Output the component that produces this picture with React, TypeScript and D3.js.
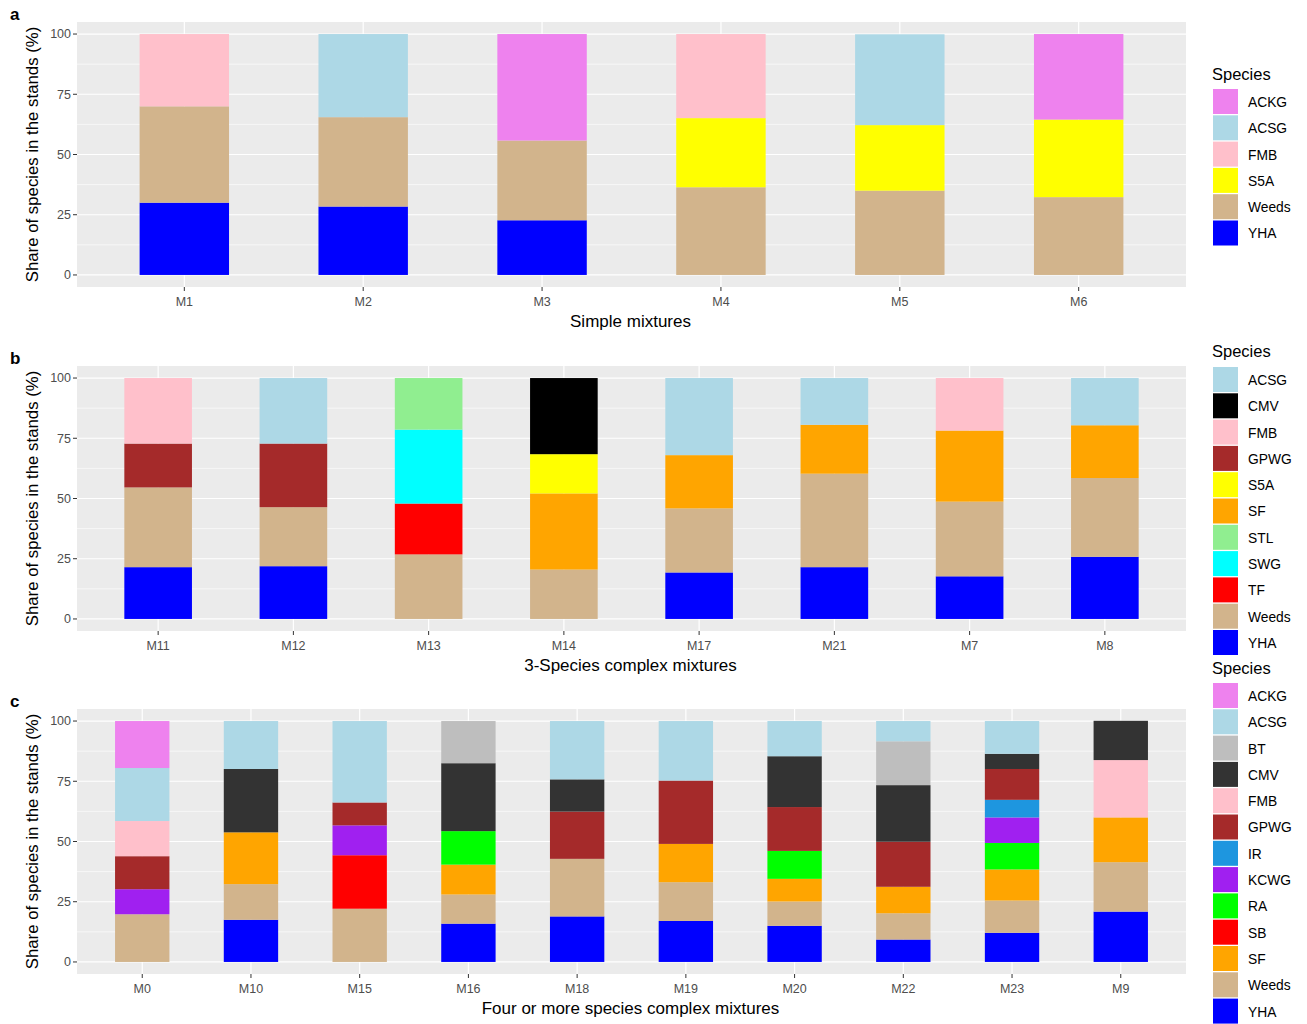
import React from "react";
import * as d3 from "d3";

const COLORS: Record<string, string> = {
  ACKG: "#EE82EE",
  ACSG: "#ADD8E6",
  BT: "#BEBEBE",
  FMB: "#FFC0CB",
  GPWG: "#A52A2A",
  IR: "#1E96DF",
  KCWG: "#A020F0",
  RA: "#00FF00",
  S5A: "#FFFF00",
  SB: "#FF0000",
  SF: "#FFA500",
  STL: "#90EE90",
  SWG: "#00FFFF",
  TF: "#FF0000",
  Weeds: "#D2B48C",
  YHA: "#0000FF",
};

// Panel a
const catsA = ["M1", "M2", "M3", "M4", "M5", "M6"];
const speciesA = ["ACKG", "ACSG", "FMB", "S5A", "Weeds", "YHA"];
const valuesA: Record<string, number[]> = {
  ACKG: [0, 0, 44.2, 0, 0, 35.5],
  ACSG: [0, 34.5, 0, 0, 37.7, 0],
  FMB: [30, 0, 0, 34.9, 0, 0],
  S5A: [0, 0, 0, 28.7, 27.2, 32.2],
  Weeds: [40, 37.1, 33.1, 36.4, 35.0, 32.3],
  YHA: [30, 28.4, 22.7, 0, 0, 0],
};

// Panel b
const catsB = ["M11", "M12", "M13", "M14", "M17", "M21", "M7", "M8"];
const speciesB = ["ACSG", "CMV", "FMB", "GPWG", "S5A", "SF", "STL", "SWG", "TF", "Weeds", "YHA"];
const valuesB: Record<string, number[]> = {
  ACSG: [0, 27.2, 0, 0, 32.0, 19.4, 0, 19.6],
  CMV: [0, 0, 0, 31.6, 0, 0, 0, 0],
  FMB: [27.2, 0, 0, 0, 0, 0, 21.8, 0],
  GPWG: [18.2, 26.4, 0, 0, 0, 0, 0, 0],
  S5A: [0, 0, 0, 16.3, 0, 0, 0, 0],
  SF: [0, 0, 0, 31.6, 22.1, 20.3, 29.5, 21.9],
  STL: [0, 0, 21.4, 0, 0, 0, 0, 0],
  SWG: [0, 0, 30.7, 0, 0, 0, 0, 0],
  TF: [0, 0, 21.1, 0, 0, 0, 0, 0],
  Weeds: [33.1, 24.5, 26.8, 20.5, 26.6, 38.8, 31.0, 32.7],
  YHA: [21.5, 21.9, 0, 0, 19.3, 21.5, 17.7, 25.8],
};

// Panel c
const catsC = ["M0", "M10", "M15", "M16", "M18", "M19", "M20", "M22", "M23", "M9"];
const speciesC = ["ACKG", "ACSG", "BT", "CMV", "FMB", "GPWG", "IR", "KCWG", "RA", "SB", "SF", "Weeds", "YHA"];
const valuesC: Record<string, number[]> = {
  ACKG: [19.5, 0, 0, 0, 0, 0, 0, 0, 0, 0],
  ACSG: [22.0, 19.9, 33.8, 0, 24.2, 24.7, 14.6, 8.4, 13.6, 0],
  BT: [0, 0, 0, 17.5, 0, 0, 0, 18.2, 0, 0],
  CMV: [0, 26.3, 0, 28.2, 13.4, 0, 21.1, 23.5, 6.3, 16.3],
  FMB: [14.6, 0, 0, 0, 0, 0, 0, 0, 0, 23.8],
  GPWG: [13.7, 0, 9.5, 0, 19.6, 26.3, 18.2, 18.7, 12.8, 0],
  IR: [0, 0, 0, 0, 0, 0, 0, 0, 7.3, 0],
  KCWG: [10.4, 0, 12.4, 0, 0, 0, 0, 0, 10.6, 0],
  RA: [0, 0, 0, 13.9, 0, 0, 11.6, 0, 11.0, 0],
  SB: [0, 0, 22.2, 0, 0, 0, 0, 0, 0, 0],
  SF: [0, 21.5, 0, 12.4, 0, 15.9, 9.4, 11.0, 12.9, 18.6],
  Weeds: [19.8, 14.8, 22.1, 12.1, 23.9, 16.1, 10.1, 10.9, 13.4, 20.5],
  YHA: [0, 17.5, 0, 15.9, 18.9, 17.0, 15.0, 9.3, 12.1, 20.9],
};

const yTicks = [0, 25, 50, 75, 100];
const yMinor = [12.5, 37.5, 62.5, 87.5];

const FONT = "'Liberation Sans', Arial, sans-serif";

type PanelProps = {
  letter: string;
  cats: string[];
  species: string[];
  values: Record<string, number[]>;
  colors: Record<string, string>;
  top: number;
  xTitle: string;
  legendTitleY: number;
  legendKeyTop: number;
};

function Panel(p: PanelProps) {
  const left = 77;
  const right = 1186;
  const height = 265;
  const bottom = p.top + height;
  const n = p.cats.length;
  const x = d3.scaleLinear().domain([-0.6, n - 1 + 0.6]).range([left, right]);
  const y = d3.scaleLinear().domain([-5, 105]).range([bottom, p.top]);
  const rows = p.cats.map((c, i) => {
    const r: Record<string, number | string> = { cat: c };
    p.species.forEach((s) => (r[s] = p.values[s][i]));
    return r;
  });
  const stack = d3.stack<any>().keys([...p.species].reverse());
  const series = stack(rows as any);
  const bw = x(0.5) - x(0);
  const midY = (p.top + bottom) / 2;
  const rowH = 26.3;
  return (
    <g>
      <text x={10} y={p.top - 2} fontFamily={FONT} fontWeight="bold" fontSize={17} fill="#000">
        {p.letter}
      </text>
      <rect x={left} y={p.top} width={right - left} height={height} fill="#EBEBEB" />
      {yMinor.map((t) => (
        <line key={"mn" + t} x1={left} x2={right} y1={y(t)} y2={y(t)} stroke="#fff" strokeWidth={0.6} />
      ))}
      {yTicks.map((t) => (
        <line key={"mj" + t} x1={left} x2={right} y1={y(t)} y2={y(t)} stroke="#fff" strokeWidth={1.2} />
      ))}
      {p.cats.map((c, i) => (
        <line key={"vx" + c} x1={x(i)} x2={x(i)} y1={p.top} y2={bottom} stroke="#fff" strokeWidth={1.2} />
      ))}
      {series.map((s) => (
        <g key={s.key} fill={p.colors[s.key]}>
          {s.map((d, i) =>
            d[1] - d[0] > 0 ? (
              <rect key={i} x={x(i) - bw / 2} width={bw} y={y(d[1])} height={y(d[0]) - y(d[1])} />
            ) : null
          )}
        </g>
      ))}
      {yTicks.map((t) => (
        <g key={"yt" + t}>
          <line x1={left - 4} x2={left} y1={y(t)} y2={y(t)} stroke="#333" strokeWidth={1} />
          <text x={left - 6} y={y(t)} dy="0.35em" textAnchor="end" fontFamily={FONT} fontSize={12.5} fill="#4D4D4D">
            {t}
          </text>
        </g>
      ))}
      {p.cats.map((c, i) => (
        <g key={"xt" + c}>
          <line x1={x(i)} x2={x(i)} y1={bottom} y2={bottom + 4} stroke="#333" strokeWidth={1} />
          <text x={x(i)} y={bottom + 18.5} textAnchor="middle" fontFamily={FONT} fontSize={12.5} fill="#4D4D4D">
            {c}
          </text>
        </g>
      ))}
      <text x={(left + right) / 2 - 1} y={bottom + 40} textAnchor="middle" fontFamily={FONT} fontSize={17} fill="#000">
        {p.xTitle}
      </text>
      <text
        transform={`translate(38,${midY}) rotate(-90)`}
        textAnchor="middle"
        fontFamily={FONT}
        fontSize={16.8}
        fill="#000"
      >
        Share of species in the stands (%)
      </text>
      <text x={1212} y={p.legendTitleY + 6} fontFamily={FONT} fontSize={16.5} fill="#000">
        Species
      </text>
      {p.species.map((s, i) => (
        <g key={"lg" + s}>
          <rect x={1213} y={p.legendKeyTop + i * rowH} width={25} height={rowH - 1.3} fill={p.colors[s]} />
          <text
            x={1248}
            y={p.legendKeyTop + i * rowH + rowH / 2}
            dy="0.35em"
            fontFamily={FONT}
            fontSize={13.8}
            fill="#000"
          >
            {s}
          </text>
        </g>
      ))}
    </g>
  );
}

export default function App() {
  const colorsB = { ...COLORS, CMV: "#000000" };
  const colorsC = { ...COLORS, CMV: "#333333" };
  return (
    <svg
      width={1307}
      height={1024}
      style={{ position: "absolute", left: 0, top: 0, background: "#fff" }}
    >
      <rect width={1307} height={1024} fill="#fff" />
      <Panel
        letter="a"
        cats={catsA}
        species={speciesA}
        values={valuesA}
        colors={COLORS}
        top={22}
        xTitle="Simple mixtures"
        legendTitleY={74}
        legendKeyTop={89}
      />
      <Panel
        letter="b"
        cats={catsB}
        species={speciesB}
        values={valuesB}
        colors={colorsB}
        top={366}
        xTitle="3-Species complex mixtures"
        legendTitleY={351}
        legendKeyTop={367}
      />
      <Panel
        letter="c"
        cats={catsC}
        species={speciesC}
        values={valuesC}
        colors={colorsC}
        top={709}
        xTitle="Four or more species complex mixtures"
        legendTitleY={668}
        legendKeyTop={683}
      />
    </svg>
  );
}
